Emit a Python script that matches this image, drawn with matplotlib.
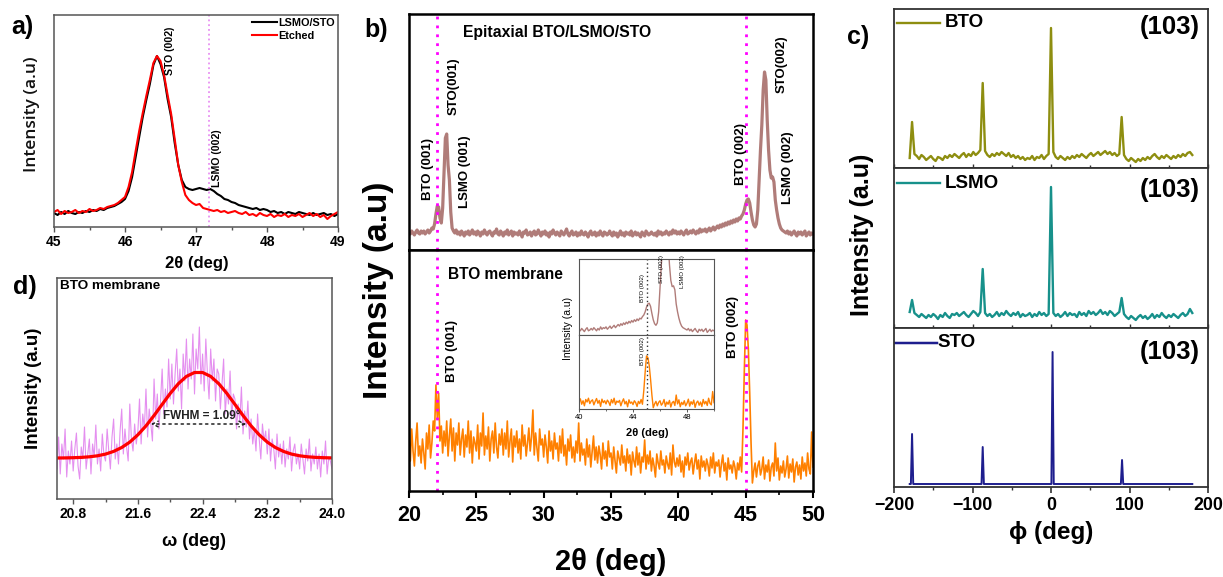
import numpy as np
import matplotlib
matplotlib.use('Agg')
import matplotlib.pyplot as plt
from matplotlib.ticker import MultipleLocator

W, H = 1223, 577
plt.rcParams['font.family'] = ['Liberation Sans', 'DejaVu Sans']
plt.rcParams['font.weight'] = 'bold'
plt.rcParams['axes.labelweight'] = 'bold'
plt.rcParams['mathtext.default'] = 'regular'

# ---------------- data ----------------
# panel a : 2theta scan around STO (002)
a_two_theta = np.linspace(45.0, 49.0, 81)
a_lsmo_sto = [14, 12, 15, 13, 16, 14, 13, 15, 14, 16,
              15, 17, 16, 18, 17, 19, 20, 21, 23, 25,
              28, 36, 50, 70, 90, 110, 127, 143, 162, 171,
              163, 150, 128, 110, 84, 62, 47, 40, 38, 37,
              38, 39, 38, 37, 38, 36, 33, 31, 28, 27,
              25, 24, 22, 21, 20, 19, 18, 19, 17, 18,
              17, 15, 16, 14, 15, 13, 15, 14, 13, 15,
              14, 13, 12, 14, 12, 13, 14, 12, 13, 11,
              13]
a_etched = [15, 17, 13, 16, 14, 15, 17, 14, 16, 15,
            18, 16, 17, 19, 18, 20, 21, 22, 24, 27,
            30, 40, 55, 76, 96, 114, 131, 147, 164, 171,
            166, 152, 132, 113, 88, 62, 45, 32, 27, 24,
            22, 23, 19, 18, 17, 16, 17, 15, 16, 14,
            15, 16, 14, 13, 15, 12, 13, 11, 14, 12,
            11, 13, 10, 12, 11, 13, 10, 12, 11, 13,
            10, 12, 14, 11, 13, 10, 12, 8, 11, 13,
            15]
a_ticks = [45, 46, 47, 48, 49]

# panel b : 2theta scans
b_two_theta = np.linspace(20.0, 50.0, 301)
b_epitaxial = [18, 16, 19, 17, 15, 18, 20, 17, 16, 19,
               17, 19, 16, 18, 20, 17, 19, 22, 21, 26,
               36, 44, 43, 32, 27, 42, 78, 112, 116, 85,
               70, 38, 22, 19, 17, 20, 16, 18, 15, 19,
               17, 14, 18, 16, 19, 15, 17, 20, 16, 18,
               15, 19, 17, 14, 18, 16, 20, 17, 15, 18,
               19, 16, 14, 18, 17, 21, 16, 15, 19, 17,
               14, 18, 16, 20, 15, 17, 19, 14, 18, 16,
               17, 15, 19, 16, 13, 18, 17, 20, 15, 16,
               18, 14, 17, 19, 15, 16, 20, 17, 14, 18,
               16, 19, 15, 17, 13, 18, 16, 20, 17, 15,
               18, 16, 14, 19, 17, 15, 18, 21, 16, 14,
               17, 19, 15, 16, 18, 14, 17, 15, 19, 16,
               15, 18, 16, 13, 17, 19, 15, 16, 18, 14,
               17, 15, 19, 16, 14, 18, 17, 15, 16, 19,
               16, 14, 18, 15, 17, 13, 16, 19, 15, 17,
               14, 18, 16, 17, 15, 19, 14, 16, 18, 15,
               17, 15, 13, 18, 16, 14, 19, 17, 15, 16,
               18, 16, 15, 17, 14, 19, 16, 18, 15, 17,
               16, 19, 17, 15, 18, 16, 20, 17, 19, 16,
               18, 16, 19, 17, 15, 18, 20, 16, 17, 19,
               17, 20, 18, 16, 19, 17, 21, 18, 20, 19,
               21, 18, 20, 22, 19, 21, 23, 20, 22, 24,
               22, 25, 23, 26, 24, 27, 25, 28, 26, 29,
               27, 30, 28, 31, 29, 32, 31, 34, 36, 40,
               46, 50, 51, 47, 38, 30, 25, 23, 26, 40,
               70, 100, 125, 160, 178, 170, 130, 100, 80, 72,
               73, 68, 50, 40, 32, 26, 22, 20, 19, 18,
               17, 19, 16, 18, 15, 17, 19, 16, 14, 18,
               16, 18, 15, 17, 19, 14, 16, 18, 15, 17,
               16]
b_membrane = [55, 30, 62, 40, 25, 50, 68, 35, 45, 28,
              52, 38, 22, 58, 42, 66, 33, 48, 70, 60,
              106, 72, 98, 50, 65, 38, 60, 45, 70, 35,
              55, 72, 40, 63, 30, 58, 46, 68, 36, 52,
              62, 34, 56, 44, 70, 38, 60, 28, 54, 48,
              40, 66, 32, 58, 45, 78, 36, 55, 42, 64,
              30, 52, 60, 38, 68, 44, 33, 57, 46, 62,
              36, 58, 42, 70, 34, 50, 62, 29, 55, 44,
              60, 38, 52, 32, 66, 45, 56, 35, 48, 63,
              40, 54, 81, 36, 58, 43, 30, 62, 46, 52,
              34, 56, 44, 28, 60, 40, 50, 32, 58, 42,
              48, 30, 55, 38, 62, 35, 46, 26, 52, 40,
              56, 33, 44, 29, 50, 38, 68, 30, 48, 36,
              42, 26, 52, 34, 46, 24, 40, 55, 31, 44,
              28, 45, 36, 22, 48, 32, 40, 25, 50, 34,
              38, 22, 44, 30, 18, 40, 33, 26, 46, 28,
              35, 20, 42, 28, 36, 16, 39, 30, 24, 44,
              26, 38, 18, 34, 29, 51, 22, 36, 27, 40,
              20, 33, 25, 14, 37, 28, 22, 40, 26, 31,
              18, 35, 27, 22, 38, 16, 46, 29, 24, 33,
              25, 36, 19, 30, 14, 34, 26, 38, 21, 29,
              33, 17, 28, 37, 22, 31, 12, 35, 24, 30,
              20, 32, 26, 15, 34, 23, 38, 18, 29, 25,
              31, 14, 27, 36, 20, 28, 11, 33, 22, 26,
              18, 30, 24, 12, 28, 21, 34, 19, 62, 120,
              171, 166, 142, 98, 48, 8, 20, 28, 14, 25,
              30, 16, 22, 34, 12, 26, 19, 31, 10, 24,
              28, 15, 48, 20, 33, 11, 25, 18, 30, 14,
              22, 35, 13, 27, 19, 32, 9, 24, 29, 16,
              26, 12, 34, 20, 28, 15, 38, 22, 17, 59,
              24]
b_ref_lines = [22.1, 45.05]
b_ticks = [20, 25, 30, 35, 40, 45, 50]
inset_ticks = [40, 44, 48]

# panel c : phi scans (103)
c_phi = np.linspace(-180, 180, 121)
c_bto = [10, 46, 14, 12, 9, 13, 11, 8, 10, 12,
         9, 7, 11, 10, 8, 12, 10, 13, 11, 14,
         12, 10, 13, 15, 11, 14, 12, 16, 13, 15,
         18, 85, 17, 13, 11, 14, 12, 15, 13, 16,
         14, 12, 15, 11, 13, 10, 12, 9, 11, 8,
         10, 9, 12, 8, 11, 10, 13, 9, 12, 14,
         140, 16, 11, 9, 12, 10, 8, 11, 9, 12,
         10, 13, 11, 14, 12, 10, 13, 15, 12, 14,
         16, 13, 15, 17, 14, 16, 13, 15, 12, 14,
         51, 13, 9, 7, 10, 8, 6, 9, 7, 10,
         8, 11, 9, 12, 14, 11, 9, 12, 10, 13,
         11, 9, 12, 10, 13, 11, 14, 12, 15, 16,
         13]
c_lsmo = [16, 28, 15, 13, 11, 14, 12, 10, 13, 11,
          14, 12, 9, 13, 11, 15, 12, 10, 14, 13,
          15, 12, 14, 16, 13, 11, 14, 17, 15, 12,
          16, 59, 15, 12, 14, 11, 13, 16, 12, 15,
          13, 17, 14, 12, 15, 13, 16, 11, 14, 12,
          13, 15, 11, 14, 12, 16, 13, 15, 12, 14,
          141, 15, 12, 14, 11, 13, 16, 12, 15, 13,
          14, 11, 16, 13, 15, 12, 17, 14, 16, 13,
          15, 18, 14, 16, 13, 17, 15, 12, 14, 16,
          30, 14, 11, 9, 12, 10, 8, 11, 13, 10,
          12, 9, 11, 14, 10, 13, 11, 15, 12, 10,
          13, 11, 14, 12, 10, 13, 15, 12, 14, 19,
          15]
c_sto_phi = [-180, -178.5, -177, -175.5, -88.5, -87, -85.5, 0.5, 2, 3.5, 89, 90.5, 92, 180]
c_sto = [3, 3, 53, 3, 3, 40, 3, 3, 135, 3, 3, 27, 3, 3]
c_ticks = [-200, -100, 0, 100, 200]

# panel d : rocking curve of BTO membrane
d_omega = np.linspace(20.6, 24.0, 171)
d_raw = [30, 62, 25, 55, 40, 70, 22, 48, 35, 58,
         28, 50, 66, 33, 20, 52, 40, 72, 30, 45,
         60, 25, 55, 42, 74, 35, 50, 28, 65, 44,
         38, 70, 48, 30, 62, 80, 40, 55, 35, 68,
         90, 45, 70, 52, 38, 95, 60, 48, 75, 55,
         68, 100, 55, 85, 70, 110, 62, 90, 75, 58,
         120, 80, 105, 70, 98, 130, 85, 110, 92, 140,
         100, 135, 95, 125, 150, 108, 130, 90, 145, 118,
         160, 110, 140, 120, 165, 105, 150, 130, 172, 115,
         145, 108, 160, 125, 100, 150, 118, 140, 98, 130,
         125, 90, 115, 140, 85, 110, 95, 128, 80, 105,
         100, 70, 95, 78, 112, 65, 88, 72, 98, 60,
         80, 55, 70, 48, 85, 60, 40, 75, 58, 68,
         45, 70, 38, 60, 50, 30, 65, 42, 55, 35,
         58, 32, 50, 40, 62, 28, 48, 55, 35, 45,
         30, 55, 40, 25, 50, 38, 60, 28, 45, 35,
         52, 30, 45, 22, 48, 35, 58, 25, 42, 38,
         30]
d_fit_omega = np.linspace(20.6, 24.0, 35)
d_fit = [41.0, 41.1, 41.3, 41.6, 42.2, 43.2, 44.9, 47.6, 51.5, 56.9,
         64.2, 73.1, 83.5, 94.6, 105.6, 115.3, 122.6, 126.5, 126.5, 122.6,
         115.3, 105.6, 94.6, 83.5, 73.1, 64.2, 56.9, 51.5, 47.6, 44.9,
         43.2, 42.2, 41.6, 41.3, 41.1]
d_fwhm_ends = [21.76, 22.94]
d_ticks = [20.8, 21.6, 22.4, 23.2, 24.0]

# ---------------- figure ----------------
fig = plt.figure(figsize=(W / 100, H / 100), dpi=100)


def rect(l, t, r, b):
    return [l / W, 1 - b / H, (r - l) / W, (b - t) / H]


def style_spines(ax, color, lw):
    for s in ax.spines.values():
        s.set_color(color)
        s.set_linewidth(lw)


# ---- panel a ----
axa = fig.add_axes(rect(54, 15, 338, 227))
axa.plot(a_two_theta, a_lsmo_sto, color='black', lw=1.5, label='LSMO/STO')
axa.plot(a_two_theta, a_etched, color='#ff0000', lw=1.5, label='Etched')
axa.axvline(47.18, color='#e890f2', ls=':', lw=1.3)
axa.set_xlim(45, 49)
axa.set_ylim(0, 212)
axa.set_yticks([])
axa.set_xticks(a_ticks)
axa.xaxis.set_minor_locator(MultipleLocator(0.5))
axa.tick_params(axis='x', which='major', direction='out', length=3.5, width=1,
                labelsize=10, pad=2, color='#555555')
axa.tick_params(axis='x', which='minor', direction='out', length=2, width=1, color='#555555')
style_spines(axa, '#555555', 1.1)
axa.text(46.64, 152, 'STO (002)', rotation=90, ha='center', va='bottom', fontsize=7.6)
axa.text(47.29, 40, 'LSMO (002)', rotation=90, ha='center', va='bottom', fontsize=7.6)
axa.legend(loc='upper right', frameon=False, prop={'size': 7.8, 'weight': 'bold'},
           handlelength=2.3, handletextpad=0.15, labelspacing=0.3,
           borderaxespad=0.1, borderpad=0.15)
axa.set_xlabel('2θ (deg)', fontsize=12)
axa.xaxis.set_label_coords(0.502, -0.135)
axa.set_ylabel('Intensity (a.u)', fontsize=12.5, family=['Open Sans', 'DejaVu Sans'],
               fontweight='semibold', color='#111111')
axa.yaxis.set_label_coords(-0.05, 0.533)
fig.text(22 / W, 1 - 27 / H, 'a)', fontsize=18, ha='center', va='center')

# ---- panel d ----
axd = fig.add_axes(rect(57, 278, 332, 499))
axd.plot(d_omega, d_raw, color='#e07ced', lw=0.8, alpha=0.85)
axd.plot(d_fit_omega, d_fit, color='#ff0000', lw=2.3)
axd.set_xlim(20.6, 24.0)
axd.set_ylim(0, 221)
axd.set_yticks([])
axd.set_xticks(d_ticks)
axd.set_xticklabels(['20.8', '21.6', '22.4', '23.2', '24.0'])
axd.xaxis.set_minor_locator(MultipleLocator(0.4))
axd.tick_params(axis='x', which='major', direction='out', length=3.5, width=1,
                labelsize=10, pad=2, color='#555555')
axd.tick_params(axis='x', which='minor', direction='out', length=2, width=1, color='#555555')
style_spines(axd, '#555555', 1.1)
axd.annotate('', xy=(d_fwhm_ends[0], 75), xytext=(d_fwhm_ends[1], 75),
             arrowprops=dict(arrowstyle='<->', linestyle=(0, (1.5, 2.5)), lw=1.1,
                             color='#222222', shrinkA=0, shrinkB=0))
axd.text(22.39, 83, 'FWHM = 1.09°', ha='center', va='center', fontsize=8.5, color='#222222')
axd.text(0.012, 0.962, 'BTO membrane', transform=axd.transAxes, ha='left', va='center',
         fontsize=9.7)
axd.set_xlabel('ω (deg)', fontsize=13)
axd.xaxis.set_label_coords(0.5, -0.155)
axd.set_ylabel('Intensity (a.u)', fontsize=13.5)
axd.yaxis.set_label_coords(-0.055, 0.50)
fig.text(25 / W, 1 - 287 / H, 'd)', fontsize=18, ha='center', va='center')

# ---- panel b ----
axb1 = fig.add_axes(rect(409, 14, 813, 250))
axb2 = fig.add_axes(rect(409, 250, 813, 491))
axb1.plot(b_two_theta, b_epitaxial, color='#b07c79', lw=2.3)
axb2.plot(b_two_theta, b_membrane, color='#ff8000', lw=1.2)
for ax, top in ((axb1, 236), (axb2, 241)):
    ax.set_xlim(20, 50)
    ax.set_ylim(0, top)
    ax.set_yticks([])
    for xv in b_ref_lines:
        ax.axvline(xv, color='#ff00ff', ls=(0, (1, 2.2)), lw=2.0)
    style_spines(ax, 'black', 1.8)
axb1.tick_params(axis='x', which='both', bottom=False, labelbottom=False)
axb2.set_xticks(b_ticks)
axb2.xaxis.set_minor_locator(MultipleLocator(2.5))
axb2.tick_params(axis='x', which='major', direction='out', length=5, width=1.5,
                 labelsize=15.5, pad=5)
axb2.tick_params(axis='x', which='minor', direction='out', length=3, width=1.2)
axb1.text(24.0, 218, 'Epitaxial BTO/LSMO/STO', ha='left', va='center', fontsize=11.3)
axb1.text(21.4, 50, 'BTO (001)', rotation=90, ha='center', va='bottom', fontsize=9.5)
axb1.text(23.29, 135, 'STO(001)', rotation=90, ha='center', va='bottom', fontsize=9.5)
axb1.text(24.16, 42, 'LSMO (001)', rotation=90, ha='center', va='bottom', fontsize=9.5)
axb1.text(44.63, 65, 'BTO (002)', rotation=90, ha='center', va='bottom', fontsize=9.5)
axb1.text(47.67, 157, 'STO(002)', rotation=90, ha='center', va='bottom', fontsize=9.5)
axb1.text(48.17, 46, 'LSMO (002)', rotation=90, ha='center', va='bottom', fontsize=9.5)
axb2.text(22.9, 217, 'BTO membrane', ha='left', va='center', fontsize=11.2)
axb2.text(23.17, 109, 'BTO (001)', rotation=90, ha='center', va='bottom', fontsize=9.5)
axb2.text(44.06, 133, 'BTO (002)', rotation=90, ha='center', va='bottom', fontsize=9.5)
axb2.set_xlabel('2θ (deg)', fontsize=21)
axb2.xaxis.set_label_coords(0.5, -0.235)
fig.text(378 / W, 1 - 290 / H, 'Intensity (a.u)', rotation=90, fontsize=24,
         ha='center', va='center')
fig.text(376 / W, 1 - 30 / H, 'b)', fontsize=18, ha='center', va='center')

# inset
axi1 = fig.add_axes(rect(579, 259, 714, 335))
axi2 = fig.add_axes(rect(579, 335, 714, 409))
axi1.plot(b_two_theta, b_epitaxial, color='#b07c79', lw=1.0)
axi2.plot(b_two_theta, b_membrane, color='#ff8000', lw=1.0)
axi1.set_ylim(10.7, 107)
axi2.set_ylim(4, 237)
for ax in (axi1, axi2):
    ax.set_xlim(40, 50)
    ax.set_yticks([])
    ax.axvline(45.0, color='#333333', ls=(0, (1, 2)), lw=1.0)
    style_spines(ax, '#555555', 0.8)
axi1.tick_params(axis='x', which='both', bottom=False, labelbottom=False)
axi2.set_xticks(inset_ticks)
axi2.xaxis.set_minor_locator(MultipleLocator(2))
axi2.tick_params(axis='x', which='major', direction='out', length=2, width=0.7,
                 labelsize=5.5, pad=1.5, color='#555555')
axi2.tick_params(axis='x', which='minor', direction='out', length=1.2, width=0.6, color='#555555')
for lbl in axi2.get_xticklabels():
    lbl.set_fontweight('normal')
axi1.text(44.7, 52, 'BTO (002)', rotation=90, ha='center', va='bottom', fontsize=4.3,
          fontweight='normal')
axi1.text(46.1, 77, 'STO (002)', rotation=90, ha='center', va='bottom', fontsize=4.3,
          fontweight='normal')
axi1.text(47.7, 70, 'LSMO (002)', rotation=90, ha='center', va='bottom', fontsize=4.3,
          fontweight='normal')
axi2.text(44.7, 143, 'BTO (002)', rotation=90, ha='center', va='bottom', fontsize=4.3,
          fontweight='normal')
axi2.set_xlabel('2θ (deg)', fontsize=8)
axi2.xaxis.set_label_coords(0.504, -0.26)
fig.text(568 / W, 1 - 328 / H, 'Intensity (a.u)', rotation=90, fontsize=7.5,
         fontweight='normal', ha='center', va='center')

# ---- panel c ----
axc1 = fig.add_axes(rect(894, 9, 1208, 168))
axc2 = fig.add_axes(rect(894, 168, 1208, 328))
axc3 = fig.add_axes(rect(894, 328, 1208, 487))
c_series = [(axc1, c_phi, c_bto, '#8e8e10', 1.7, 'BTO', 159, 0.912, 0.887),
            (axc2, c_phi, c_lsmo, '#17918b', 1.7, 'LSMO', 160, 0.906, 0.862),
            (axc3, c_sto_phi, c_sto, '#1e1e8e', 1.4, 'STO', 159, 0.906, 0.85)]
for ax, xs, ys, col, lw, name, top, ly, ry in c_series:
    ax.plot(xs, ys, color=col, lw=lw)
    ax.set_xlim(-200, 200)
    ax.set_ylim(0, top)
    ax.set_yticks([])
    ax.set_xticks(c_ticks)
    ax.xaxis.set_minor_locator(MultipleLocator(50))
    style_spines(ax, '#333333', 1.3)
    if name == 'STO':
        ax.plot([0.0, 0.137], [ly, ly], transform=ax.transAxes, color=col, lw=lw + 0.4)
        ax.text(0.137, ly, name, transform=ax.transAxes, ha='left', va='center', fontsize=13.5)
    else:
        ax.plot([0.01, 0.147], [ly, ly], transform=ax.transAxes, color=col, lw=lw)
        ax.text(0.162, ly, name, transform=ax.transAxes, ha='left', va='center', fontsize=13.5)
    ax.text(0.975, ry, '(103)', transform=ax.transAxes, ha='right', va='center', fontsize=18.5)
for ax in (axc1, axc2):
    ax.tick_params(axis='x', which='major', direction='in', length=3, width=1,
                   labelbottom=False, color='#333333')
    ax.tick_params(axis='x', which='minor', direction='in', length=2, width=1, color='#333333')
axc3.tick_params(axis='x', which='major', direction='out', length=4, width=1.2,
                 labelsize=12.8, pad=3, color='#333333')
axc3.tick_params(axis='x', which='minor', direction='out', length=2.5, width=1, color='#333333')
axc3.set_xlabel('ϕ (deg)', fontsize=17.5)
axc3.xaxis.set_label_coords(0.5, -0.215)
fig.text(862 / W, 1 - 235 / H, 'Intensity (a.u)', rotation=90, fontsize=18,
         ha='center', va='center')
fig.text(858 / W, 1 - 37 / H, 'c)', fontsize=18, ha='center', va='center')

fig.savefig('out.png', dpi=100)
